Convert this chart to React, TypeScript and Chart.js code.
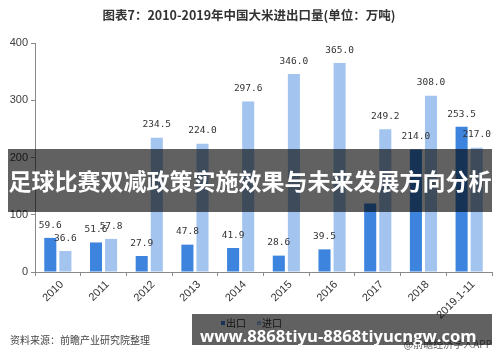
import React, { useEffect, useRef } from "react";
import { Chart, registerables } from "chart.js";

Chart.register(...registerables);

const categories = ["2010", "2011", "2012", "2013", "2014", "2015", "2016", "2017", "2018", "2019.1-11"];
const exportValues = [59.6, 51.6, 27.9, 47.8, 41.9, 28.6, 39.5, 119.7, 214.0, 253.5];
const importValues = [36.6, 57.8, 234.5, 224.0, 297.6, 346.0, 365.0, 249.2, 308.0, 217.0];
const exportLabelShown = [true, true, true, true, true, true, true, false, true, true];
const importLabelShown = [true, true, true, true, true, true, true, true, true, true];
const yTicks = [0, 100, 200, 300, 400];
const seriesNames = ["出口", "进口"];
const titleText = "图表7：2010-2019年中国大米进出口量(单位：万吨)";
const sourceText = "资料来源：前瞻产业研究院整理";
const creditText = "@前瞻经济学人APP";
const bannerText = "足球比赛双减政策实施效果与未来发展方向分析";
const urlText = "www.8868tiyu-8868tiyucngw.com";

const EXPORT_COLOR = "#3c84dd";
const IMPORT_COLOR = "#a3c4ef";

const labelsPlugin = {
  id: "customText",
  afterDatasetsDraw(chart: any) {
    const ctx = chart.ctx;
    ctx.save();
    ctx.font = "9.5px 'DejaVu Sans Mono'";
    ctx.fillStyle = "#333333";
    ctx.textAlign = "center";
    ctx.textBaseline = "bottom";
    const shown = [exportLabelShown, importLabelShown];
    const vals = [exportValues, importValues];
    for (let d = 0; d < 2; d++) {
      const meta = chart.getDatasetMeta(d);
      meta.data.forEach((bar: any, i: number) => {
        if (!shown[d][i]) return;
        ctx.fillText(vals[d][i].toFixed(1), bar.x, bar.y - 8);
      });
    }
    ctx.restore();
  },
  afterDraw(chart: any) {
    const ctx = chart.ctx;
    ctx.save();
    // title
    ctx.font = "bold 12.5px 'Noto Sans CJK SC'";
    ctx.fillStyle = "#333333";
    ctx.textAlign = "center";
    ctx.textBaseline = "middle";
    ctx.fillText(titleText, 249, 15);
    // legend
    ctx.font = "10px 'Noto Sans CJK SC'";
    ctx.textAlign = "left";
    ctx.fillStyle = EXPORT_COLOR;
    ctx.fillRect(221, 321, 4, 4);
    ctx.fillStyle = "#333333";
    ctx.fillText(seriesNames[0], 226, 323);
    ctx.fillStyle = IMPORT_COLOR;
    ctx.fillRect(257, 321, 4, 4);
    ctx.fillStyle = "#333333";
    ctx.fillText(seriesNames[1], 262, 323);
    // source
    ctx.font = "10px 'Noto Sans CJK SC'";
    ctx.fillStyle = "#444444";
    ctx.fillText(sourceText, 10, 340);
    ctx.textAlign = "right";
    ctx.fillStyle = "#666666";
    ctx.fillText(creditText, 492, 344);
    ctx.restore();
  },
};

export default function App() {
  const ref = useRef<HTMLCanvasElement | null>(null);
  useEffect(() => {
    if (!ref.current) return;
    const chart = new Chart(ref.current, {
      type: "bar",
      data: {
        labels: categories,
        datasets: [
          {
            label: seriesNames[0],
            data: exportValues,
            backgroundColor: EXPORT_COLOR,
            categoryPercentage: 0.66,
            barPercentage: 0.8,
          },
          {
            label: seriesNames[1],
            data: importValues,
            backgroundColor: IMPORT_COLOR,
            categoryPercentage: 0.66,
            barPercentage: 0.8,
          },
        ],
      },
      options: {
        responsive: false,
        animation: false,
        devicePixelRatio: 1,
        layout: { padding: { top: 43, right: 8, bottom: 0, left: 0 } },
        plugins: {
          legend: { display: false },
          title: { display: false },
          tooltip: { enabled: false },
        },
        scales: {
          x: {
            grid: {
              offset: true,
              drawOnChartArea: false,
              drawTicks: true,
              tickLength: 4,
              color: "#8a8a8a",
            },
            border: { display: true, color: "#8a8a8a" },
            ticks: {
              minRotation: 45,
              maxRotation: 45,
              color: "#333333",
              font: { size: 11, family: "'Liberation Sans'" },
              padding: 2,
              labelOffset: 4,
            },
            afterFit: (s: any) => {
              s.height = 90;
            },
          },
          y: {
            min: 0,
            max: 400,
            afterBuildTicks: (s: any) => {
              s.ticks = yTicks.map((v) => ({ value: v }));
            },
            grid: {
              drawOnChartArea: false,
              drawTicks: true,
              tickLength: 4,
              color: "#8a8a8a",
            },
            border: { display: true, color: "#8a8a8a" },
            ticks: {
              color: "#404040",
              font: { size: 11, family: "'Liberation Sans'" },
              padding: 3,
            },
            afterFit: (s: any) => {
              s.width = 35;
            },
          },
        },
      },
      plugins: [labelsPlugin],
    });
    return () => chart.destroy();
  }, []);

  return (
    <div style={{ position: "fixed", left: 0, top: 0, width: 500, height: 362, background: "#ffffff" }}>
      <canvas ref={ref} width={500} height={362} style={{ position: "absolute", left: 0, top: 0 }} />
      <div
        style={{
          position: "absolute",
          left: 8,
          top: 149,
          width: 484,
          height: 63,
          background: "rgba(0,0,0,0.62)",
          color: "#ffffff",
          fontFamily: "'Noto Sans CJK SC'",
          fontWeight: 700,
          fontSize: 23,
          lineHeight: "63px",
          textAlign: "center",
          whiteSpace: "nowrap",
          overflow: "hidden",
        }}
      >
        {bannerText}
      </div>
      <div
        style={{
          position: "absolute",
          left: 192,
          top: 314,
          width: 300,
          height: 31,
          background: "rgba(0,0,0,0.62)",
          color: "#ffffff",
          fontFamily: "'Open Sans'",
          fontWeight: 700,
          fontSize: 16.6,
          lineHeight: "16px",
          whiteSpace: "nowrap",
          overflow: "hidden",
        }}
      >
        <div style={{ position: "absolute", left: 8, top: 14 }}>{urlText}</div>
      </div>
    </div>
  );
}
